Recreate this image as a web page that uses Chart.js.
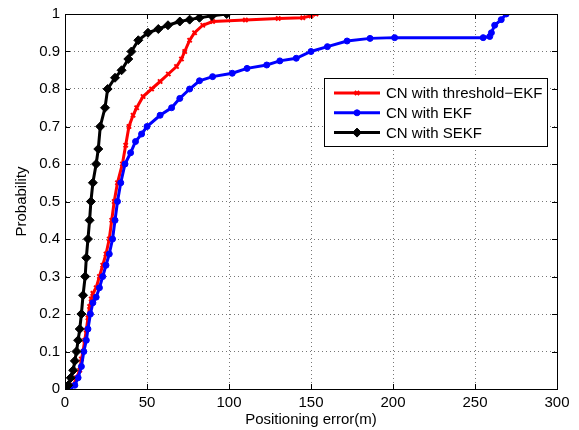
<!DOCTYPE html>
<html>
<head>
<meta charset="utf-8">
<script src="https://cdn.jsdelivr.net/npm/chart.js@4"></script>
<style>
    html, body { margin: 0; padding: 0; background: #fff; }
</style>
</head>
<body>
<canvas id="cdf-chart" width="579" height="430"></canvas>
<script>
// Values (error in m, probability)
const thresholdErr = [3, 5, 7, 9, 10, 11, 12, 13, 14, 15, 16, 17, 19, 21, 23, 25, 27, 28.5, 30, 32, 35, 37, 39, 41.5, 43.7, 47.6, 52.8, 58, 63, 68, 71, 73, 76, 79, 84, 90, 110, 130, 145, 150, 153];
const thresholdProb = [0, 0.01, 0.03, 0.05, 0.08, 0.1, 0.13, 0.157, 0.19, 0.22, 0.24, 0.255, 0.27, 0.3, 0.33, 0.36, 0.4, 0.45, 0.5, 0.55, 0.6, 0.65, 0.7, 0.73, 0.75, 0.78, 0.8, 0.82, 0.84, 0.86, 0.88, 0.9, 0.93, 0.95, 0.97, 0.98, 0.984, 0.988, 0.99, 0.995, 1];

const ekfErr = [3, 6, 8, 10, 11.5, 13, 14, 15.5, 17, 19, 21, 23, 25, 27, 29, 30.5, 32, 34, 36.6, 40, 43, 46.7, 50, 58, 65, 70, 76, 82, 90, 102, 111, 123, 131, 141, 150, 160, 172, 186, 201, 255, 259, 260, 262, 266, 269];
const ekfProb = [0, 0.01, 0.03, 0.06, 0.1, 0.13, 0.16, 0.2, 0.23, 0.245, 0.27, 0.3, 0.33, 0.36, 0.4, 0.45, 0.5, 0.55, 0.6, 0.63, 0.66, 0.68, 0.7, 0.73, 0.75, 0.775, 0.8, 0.822, 0.833, 0.842, 0.855, 0.864, 0.875, 0.882, 0.9, 0.913, 0.928, 0.935, 0.937, 0.937, 0.94, 0.95, 0.97, 0.985, 1];

const sekfErr = [0, 2, 3.5, 5, 6, 7, 8, 9, 10, 11, 12.3, 13, 14, 15, 15.8, 17, 19, 20.3, 21.5, 24.4, 26, 30.5, 34.5, 38.6, 40.5, 44.7, 50.6, 56.9, 62.8, 70, 76, 82, 89.6, 98.6];
const sekfProb = [0, 0.01, 0.03, 0.05, 0.075, 0.1, 0.13, 0.16, 0.2, 0.25, 0.3, 0.35, 0.4, 0.45, 0.5, 0.55, 0.6, 0.64, 0.7, 0.75, 0.8, 0.83, 0.85, 0.88, 0.9, 0.93, 0.95, 0.96, 0.97, 0.98, 0.985, 0.99, 0.995, 1];

const seriesLabels = ['CN with threshold\u2212EKF', 'CN with EKF', 'CN with SEKF'];

const toPoints = (xs, ys) => xs.map((x, i) => ({ x: x, y: ys[i] }));
const FONT = 'Liberation Sans, Arial, Helvetica, sans-serif';

// Box, inward ticks and the Matlab-style legend
const matlabFrame = {
    id: 'matlabFrame',
    afterDraw(chart) {
        const { ctx, chartArea: a, scales } = chart;
        ctx.save();
        ctx.strokeStyle = '#000';
        ctx.lineWidth = 1;
        ctx.beginPath();
        scales.x.ticks.forEach(t => {
            const px = Math.round(scales.x.getPixelForValue(t.value)) + 0.5;
            ctx.moveTo(px, a.bottom); ctx.lineTo(px, a.bottom - 5);
            ctx.moveTo(px, a.top); ctx.lineTo(px, a.top + 5);
        });
        scales.y.ticks.forEach(t => {
            const py = Math.round(scales.y.getPixelForValue(t.value)) + 0.5;
            ctx.moveTo(a.left, py); ctx.lineTo(a.left + 5, py);
            ctx.moveTo(a.right, py); ctx.lineTo(a.right - 5, py);
        });
        ctx.stroke();
        ctx.strokeRect(Math.round(a.left) + 0.5, Math.round(a.top) + 0.5,
            Math.round(a.right - a.left), Math.round(a.bottom - a.top));

        // legend
        const w = 223, h = 68;
        const x0 = Math.round(a.right) - 10 - w, y0 = Math.round(a.top) + 64;
        ctx.fillStyle = '#fff';
        ctx.fillRect(x0, y0, w, h);
        ctx.strokeRect(x0 + 0.5, y0 + 0.5, w, h);
        chart.data.datasets.forEach((ds, i) => {
            const cy = y0 + 15 + i * 19.8;
            ctx.strokeStyle = ds.borderColor;
            ctx.fillStyle = ds.pointBackgroundColor;
            ctx.lineWidth = 3;
            ctx.beginPath();
            ctx.moveTo(x0 + 10, cy); ctx.lineTo(x0 + 56, cy);
            ctx.stroke();
            ctx.lineWidth = ds.pointBorderWidth;
            Chart.helpers.drawPoint(ctx, {
                pointStyle: ds.pointStyle, radius: ds.pointRadius,
                borderWidth: ds.pointBorderWidth, rotation: 0
            }, x0 + 33, cy);
            ctx.fillStyle = '#000';
            ctx.font = '15px ' + FONT;
            ctx.textBaseline = 'middle';
            ctx.textAlign = 'left';
            ctx.fillText(ds.label, x0 + 62, cy + 1);
        });
        ctx.restore();
    }
};

const ctx = document.getElementById('cdf-chart').getContext('2d');
const chart = new Chart(ctx, {
    type: 'line',
    data: {
        datasets: [{
            label: seriesLabels[0],
            data: toPoints(thresholdErr, thresholdProb),
            borderColor: '#ff0000',
            pointBackgroundColor: '#ff0000',
            pointBorderColor: '#ff0000',
            pointStyle: 'crossRot',
            pointRadius: 3,
            pointBorderWidth: 2,
            borderWidth: 3,
            order: 2
        }, {
            label: seriesLabels[1],
            data: toPoints(ekfErr, ekfProb),
            borderColor: '#0000ff',
            pointBackgroundColor: '#0000ff',
            pointBorderColor: '#0000ff',
            pointStyle: 'circle',
            pointRadius: 3,
            pointBorderWidth: 1,
            borderWidth: 3,
            order: 1
        }, {
            label: seriesLabels[2],
            data: toPoints(sekfErr, sekfProb),
            borderColor: '#000000',
            pointBackgroundColor: '#000000',
            pointBorderColor: '#000000',
            pointStyle: 'rectRot',
            pointRadius: 4.5,
            pointBorderWidth: 1,
            borderWidth: 3,
            order: 0
        }]
    },
    options: {
        responsive: false,
        animation: false,
        layout: { padding: { top: 14, right: 22, left: 0, bottom: 0 } },
        plugins: {
            legend: { display: false },
            tooltip: { enabled: false }
        },
        elements: { line: { tension: 0 } },
        scales: {
            x: {
                type: 'linear',
                min: 0,
                max: 300,
                afterFit: s => { s.height = 41; },
                ticks: { stepSize: 50, color: '#000', padding: 5, font: { family: FONT, size: 15 }, maxRotation: 0 },
                grid: { color: '#777', lineWidth: 1, drawTicks: false },
                border: { display: true, color: '#000', dash: [1, 3] },
                title: { display: true, text: 'Positioning error(m)', color: '#000', font: { family: FONT, size: 15 }, padding: { top: 0, bottom: 1 } }
            },
            y: {
                type: 'linear',
                min: 0,
                max: 1,
                afterFit: s => { s.width = 65; },
                ticks: {
                    stepSize: 0.1, color: '#000', padding: 5, font: { family: FONT, size: 15 },
                    callback: v => String(Number(v.toFixed(1)))
                },
                grid: { color: '#777', lineWidth: 1, drawTicks: false },
                border: { display: true, color: '#000', dash: [1, 3] },
                title: { display: true, text: 'Probability', color: '#000', font: { family: FONT, size: 15 }, padding: { top: 13, bottom: 0 } }
            }
        }
    },
    plugins: [matlabFrame]
});
</script>
</body>
</html>
